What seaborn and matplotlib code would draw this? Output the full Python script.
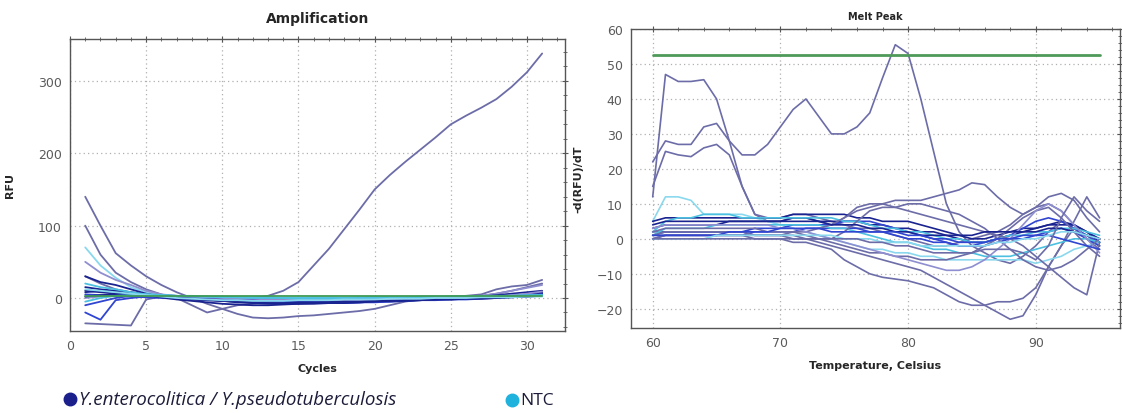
import numpy as np
import pandas as pd
import matplotlib
matplotlib.use("Agg")
import matplotlib.pyplot as plt
from matplotlib.lines import Line2D
from matplotlib.ticker import MultipleLocator
import seaborn as sns

# ---------------- data ----------------
cycles = list(range(1, 32))

amp_big   = [30, 20, 12, 8, 5, 2, 0, -2, -3, -3, -2, 0, 3, 10, 22, 45, 68, 95, 122, 150, 170, 188, 205, 222, 240, 252, 263, 275, 292, 312, 338]
amp_dip28 = [140, 100, 62, 45, 30, 18, 8, 0, -8, -15, -22, -27, -28, -27, -25, -24, -22, -20, -18, -15, -10, -5, -2, 0, 0, 1, 3, 6, 10, 15, 20]
amp_dip20 = [100, 60, 35, 22, 12, 5, 0, -10, -20, -15, -10, -8, -5, -3, -2, -2, -1, 0, 0, 1, 1, 0, 0, 1, 2, 3, 5, 12, 16, 18, 25]
amp_cyan1 = [70, 45, 28, 15, 8, 4, 2, 0, -1, -2, -2, -1, -1, 0, 0, 1, 1, 0, 0, 1, 1, 0, 0, 1, 1, 2, 2, 3, 4, 5, 6]
amp_p50   = [50, 35, 25, 18, 10, 5, 3, 2, 1, 0, -2, -3, -4, -4, -3, -3, -2, -2, -1, -1, 0, 0, 0, 1, 1, 2, 3, 6, 10, 14, 18]
amp_n30   = [30, 22, 18, 12, 6, 2, 0, -2, -3, -4, -5, -6, -6, -5, -5, -4, -4, -3, -3, -2, -2, -1, -1, 0, 0, 1, 2, 4, 6, 8, 10]
amp_zig1  = [-35, -36, -37, -38, -2, 2, 1, 0, -1, -2, -3, -4, -5, -6, -6, -5, -5, -4, -4, -3, -3, -2, -2, -1, -1, 0, 1, 2, 3, 5, 8]
amp_zig2  = [-20, -30, -3, 0, 2, 3, 2, 1, 0, -1, -2, -3, -3, -4, -4, -5, -5, -6, -6, -5, -4, -3, -2, -1, 0, 0, 1, 1, 2, 3, 4]
amp_n1    = [10, 8, 6, 5, 4, 3, 1, 0, -2, -4, -6, -7, -8, -8, -8, -7, -7, -6, -6, -5, -5, -4, -3, -2, -2, -1, 0, 1, 3, 5, 7]
amp_n2    = [-10, -5, 0, 3, 4, 3, 2, 1, 0, -1, -2, -3, -4, -5, -6, -6, -7, -7, -6, -6, -5, -4, -3, -3, -2, -2, -1, 0, 1, 2, 3]
amp_b1    = [15, 12, 10, 8, 5, 3, 1, 0, 0, -1, -1, -2, -2, -3, -3, -3, -4, -4, -4, -3, -3, -2, -2, -1, -1, 0, 0, 1, 2, 4, 6]
amp_b2    = [5, 4, 3, 2, 1, 0, -1, -1, -2, -2, -3, -3, -3, -2, -2, -2, -1, -1, -1, 0, 0, 0, 1, 1, 1, 1, 2, 2, 3, 4, 5]
amp_b3    = [8, 10, 9, 7, 4, 1, -2, -4, -6, -8, -9, -10, -10, -9, -8, -8, -7, -7, -6, -5, -4, -4, -3, -2, -1, 0, 0, 1, 2, 3, 4]
amp_b4    = [0, 2, 4, 5, 5, 4, 3, 2, 1, 0, -1, -1, -2, -2, -2, -3, -3, -3, -3, -2, -2, -2, -1, -1, 0, 0, 1, 2, 4, 6, 9]
amp_b5    = [2, 4, 5, 5, 4, 2, 0, -1, -3, -4, -5, -6, -7, -7, -6, -6, -6, -5, -5, -4, -4, -3, -3, -2, -2, -1, -1, 0, 1, 2, 3]
amp_c2    = [20, 15, 12, 8, 5, 4, 3, 2, 2, 1, 1, 0, 0, 0, -1, -1, -1, 0, 0, 0, 1, 1, 1, 1, 2, 2, 2, 3, 3, 4, 4]
amp_c3    = [-5, 0, 3, 4, 5, 4, 3, 3, 2, 2, 1, 1, 1, 0, 0, 0, 0, 0, 1, 1, 1, 1, 2, 2, 2, 2, 3, 3, 3, 3, 4]
amp_c4    = [12, 10, 8, 6, 4, 2, 0, -1, -2, -3, -3, -4, -4, -4, -3, -3, -3, -2, -2, -2, -1, -1, -1, 0, 0, 0, 1, 1, 1, 2, 2]
amp_green = [3, 3, 3, 3, 3, 3, 3, 3, 3, 3, 3, 3, 3, 3, 3, 3, 3, 3, 3, 3, 3, 3, 3, 3, 3, 3, 3, 3, 3, 3, 3]

temps = list(range(60, 96))

melt_peak  = [22, 28, 27, 27, 32, 33, 28, 24, 24, 27, 32, 37, 40, 35, 30, 30, 32, 36, 46, 55.5, 53, 40, 25, 10, 2, -2, -4, -6, -7, -5, -2, 2, 5, 3, 0, -2]
melt_p45   = [12, 47, 45, 45, 45.5, 40, 28, 15, 7, 5, 5, 6, 6, 5, 4, 6, 9, 10, 10, 11, 11, 11, 12, 13, 14, 16, 15.5, 12, 9, 7, 9, 12, 13, 11, 6, 2]
melt_p27   = [15, 25, 24, 23.5, 26, 27, 24, 15, 7, 6, 6, 7, 7, 6, 5, 4, 3, 3, 2, 1, 0, -1, -2, -2, -1, 0, 1, 2, 4, 7, 9, 10, 8, 4, 0, -3]
melt_low23 = [2, 2, 2, 2, 2, 2, 2, 2, 1, 1, 1, 0, 0, -1, -2, -3, -4, -5, -6, -7, -8, -9, -11, -13, -15, -17, -19, -21, -23, -22, -16, -8, -2, 3, 1, -2]
melt_low19 = [1, 1, 1, 1, 1, 1, 1, 1, 0, 0, 0, -1, -1, -2, -3, -6, -8, -10, -11, -11.5, -12, -13, -14, -16, -18, -19, -19, -18, -18, -17, -14, -8, -2, 5, 12, 6]
melt_cyan  = [5, 12, 12, 11, 7, 7, 7, 7, 6, 5, 4, 3, 2, 1, 0, -1, -2, -3, -3, -4, -4, -5, -5, -6, -6, -6, -6, -6, -6, -6, -7, -6, -5, -3, -2, -1]
melt_n1    = [5, 6, 6, 6, 6, 6, 6, 6, 6, 6, 6, 7, 7, 7, 7, 7, 6, 6, 5, 5, 5, 4, 3, 2, 1, 0, 0, 1, 2, 3, 3, 4, 4, 4, 2, 0]
melt_n2    = [3, 4, 4, 4, 4, 4, 5, 5, 5, 5, 5, 6, 6, 5, 5, 5, 5, 4, 4, 3, 3, 2, 2, 1, 0, -1, -1, 0, 1, 2, 3, 4, 5, 4, 2, -1]
melt_b1    = [1, 2, 2, 2, 2, 2, 2, 2, 3, 3, 3, 4, 4, 4, 4, 5, 5, 5, 4, 3, 2, 1, 0, -1, -2, -2, -1, 0, 1, 3, 5, 6, 5, 3, 1, -1]
melt_b2    = [0, 1, 1, 1, 1, 1, 1, 1, 2, 2, 2, 2, 3, 3, 3, 3, 3, 2, 2, 1, 0, 0, -1, -1, -2, -2, -2, -1, 0, 0, 1, 2, 3, 2, 0, -2]
melt_c1    = [2, 5, 6, 6, 7, 7, 7, 6, 6, 6, 6, 6, 6, 6, 6, 5, 5, 4, 3, 3, 2, 2, 1, 0, 0, -1, -1, 0, 1, 1, 2, 2, 3, 3, 2, 1]
melt_c2    = [1, 3, 3, 3, 3, 4, 4, 4, 4, 4, 4, 4, 4, 4, 3, 3, 2, 1, 0, -1, -1, -2, -3, -3, -4, -4, -5, -5, -5, -4, -3, -2, -1, 0, 0, -1]
melt_v1    = [2, 3, 3, 3, 3, 3, 3, 3, 3, 2, 2, 2, 1, 0, 0, 2, 5, 8, 9, 9, 10, 10, 9, 8, 7, 5, 3, 0, -3, -6, -8, -9, -8, -6, -3, 0]
melt_v2    = [1, 2, 2, 2, 2, 2, 2, 2, 1, 1, 1, 1, 0, 0, -1, -2, -3, -4, -4, -5, -5, -6, -6, -6, -5, -4, -2, 0, 3, 6, 8, 9, 6, 2, -2, -5]
melt_v3    = [0, 1, 1, 1, 1, 1, 1, 1, 1, 1, 1, 2, 2, 3, 4, 6, 8, 9, 10, 9, 8, 7, 6, 5, 4, 3, 2, 1, 0, -2, -5, -8, -11, -14, -16, -1]
melt_v4    = [3, 4, 4, 4, 4, 4, 4, 4, 4, 4, 3, 3, 2, 1, 0, -1, -2, -3, -4, -5, -6, -7, -8, -9, -9, -8, -6, -3, 0, 4, 8, 10, 8, 4, 0, -4]
melt_b3    = [4, 5, 5, 5, 5, 5, 5, 5, 5, 5, 5, 5, 5, 5, 4, 4, 4, 3, 3, 2, 2, 1, 1, 1, 1, 1, 2, 2, 2, 2, 2, 3, 3, 2, 1, 0]
melt_b4    = [1, 1, 1, 1, 1, 1, 2, 2, 2, 2, 3, 3, 3, 3, 2, 2, 2, 2, 2, 2, 1, 1, 0, 0, -1, -1, -1, 0, 0, 1, 1, 1, 0, -1, -2, -3]
melt_c3    = [0, 0, 0, 0, 0, 1, 1, 1, 1, 1, 1, 1, 1, 1, 1, 0, 0, 0, -1, -1, -1, -2, -2, -2, -2, -2, -2, -1, -1, 0, 0, 1, 2, 2, 1, 0]
melt_up    = [0, 0, 0, 0, 0, 0, 0, 0, 0, 0, 0, 0, 0, 0, 0, 0, 0, -1, -1, -2, -2, -3, -4, -4, -4, -4, -3, -3, -3, -4, -6, -2, 6, 12, 8, 5]
threshold_temps = [60, 95]
threshold_value = [52.5, 52.5]

legend_labels = ["Y.enterocolitica / Y.pseudotuberculosis", "NTC"]

# ---------------- styling ----------------
NAVY = "#1a2490"
BLUE = "#3045d0"
PURP = "#6c6ca8"
LAV = "#8e8ed0"
CYAN = "#4cc0e0"
LCYAN = "#8ad8ee"
GREEN = "#3f9a55"

amp_series = {
    "big": (amp_big, PURP), "dip28": (amp_dip28, PURP), "dip20": (amp_dip20, PURP),
    "cyan1": (amp_cyan1, LCYAN), "p50": (amp_p50, LAV), "n30": (amp_n30, NAVY),
    "zig1": (amp_zig1, PURP), "zig2": (amp_zig2, BLUE), "n1": (amp_n1, NAVY),
    "n2": (amp_n2, BLUE), "b1": (amp_b1, NAVY), "b2": (amp_b2, BLUE),
    "b3": (amp_b3, NAVY), "b4": (amp_b4, LAV), "b5": (amp_b5, NAVY),
    "c2": (amp_c2, CYAN), "c3": (amp_c3, CYAN), "c4": (amp_c4, LCYAN), "green": (amp_green, GREEN),
}
melt_series = {
    "peak": (melt_peak, PURP), "p45": (melt_p45, PURP), "p27": (melt_p27, PURP),
    "low23": (melt_low23, PURP), "low19": (melt_low19, PURP), "cyan": (melt_cyan, LCYAN),
    "n1": (melt_n1, NAVY), "n2": (melt_n2, NAVY), "b1": (melt_b1, BLUE), "b2": (melt_b2, BLUE),
    "c1": (melt_c1, CYAN), "c2": (melt_c2, CYAN), "v1": (melt_v1, PURP), "v2": (melt_v2, PURP),
    "v3": (melt_v3, PURP), "v4": (melt_v4, LAV), "b3": (melt_b3, NAVY), "b4": (melt_b4, BLUE),
    "c3": (melt_c3, LCYAN), "up": (melt_up, PURP),
}

amp_df = pd.concat([pd.DataFrame({"Cycle": cycles, "RFU": v, "Well": k}) for k, (v, c) in amp_series.items()])
melt_df = pd.concat([pd.DataFrame({"T": temps, "D": v, "Well": k}) for k, (v, c) in melt_series.items()])
thr_df = pd.DataFrame({"T": threshold_temps, "D": threshold_value})

sns.set_style("white")
plt.rcParams["font.family"] = ["DejaVu Sans"]

fig = plt.figure(figsize=(11.22, 4.14), dpi=100)
W, H = 1122, 414

def add_ax(l, r, t, b):
    return fig.add_axes([l / W, 1 - b / H, (r - l) / W, (b - t) / H])

ax1 = add_ax(70, 565, 40, 332)
ax2 = add_ax(631, 1120, 30, 329)

sns.lineplot(data=amp_df, x="Cycle", y="RFU", hue="Well",
             palette={k: c for k, (v, c) in amp_series.items()},
             legend=False, linewidth=1.3, estimator=None, sort=False, ax=ax1)
sns.lineplot(data=melt_df, x="T", y="D", hue="Well",
             palette={k: c for k, (v, c) in melt_series.items()},
             legend=False, linewidth=1.2, estimator=None, sort=False, ax=ax2)
sns.lineplot(data=thr_df, x="T", y="D", color="#4f9a5a", linewidth=2.0, ax=ax2)

ax1.set_xlim(0, 32.5)
ax1.set_ylim(-45.6, 358)
ax1.xaxis.set_major_locator(MultipleLocator(5))
ax1.xaxis.set_minor_locator(MultipleLocator(1))
ax1.yaxis.set_major_locator(MultipleLocator(100))
ax1.yaxis.set_minor_locator(MultipleLocator(20))

ax2.set_xlim(58.3, 96.6)
ax2.set_ylim(-25.5, 60)
ax2.xaxis.set_major_locator(MultipleLocator(10))
ax2.xaxis.set_minor_locator(MultipleLocator(2))
ax2.yaxis.set_major_locator(MultipleLocator(10))
ax2.yaxis.set_minor_locator(MultipleLocator(2))

for ax in (ax1, ax2):
    ax.grid(True, which="major", linestyle=(0, (1, 2.5)), color="#b0b0b0", linewidth=0.9)
    for s in ax.spines.values():
        s.set_color("#555555")
        s.set_linewidth(1.0)
    ax.tick_params(which="both", direction="inout", top=True, right=True,
                   colors="#555555", labelcolor="#5a5a5a", labelsize=9)
    ax.tick_params(which="major", length=5)
    ax.tick_params(which="minor", length=3)
    ax.set_xlabel("")
    ax.set_ylabel("")

ax1.set_title("Amplification", fontsize=10, fontweight="bold", pad=12)
ax2.set_title("Melt Peak", fontsize=7, fontweight="bold", pad=7)
ax1.set_xlabel("Cycles", fontsize=8, fontweight="bold", labelpad=8)
ax1.set_ylabel("RFU", fontsize=8, fontweight="bold")
ax1.yaxis.set_label_coords((15 - 70) / 495, 0.5)
ax2.set_xlabel("Temperature, Celsius", fontsize=8, fontweight="bold", labelpad=8)
ax2.set_ylabel("-d(RFU)/dT", fontsize=8, fontweight="bold")
ax2.yaxis.set_label_coords((583 - 631) / 489, 0.5)

# legend at the bottom
fig.add_artist(Line2D([70 / W], [1 - 400 / H], marker="o", markersize=9,
                      color="#1a1f8c", transform=fig.transFigure))
fig.text(79 / W, 1 - 400 / H, legend_labels[0], fontsize=13.5, style="italic",
         color="#1c1c3a", va="center", ha="left", family="Open Sans")
fig.add_artist(Line2D([512 / W], [1 - 401 / H], marker="o", markersize=9,
                      color="#1fb2dc", transform=fig.transFigure))
fig.text(520 / W, 1 - 401 / H, legend_labels[1], fontsize=12.5,
         color="#1c1c3a", va="center", ha="left", family="Open Sans")

fig.savefig("out.png", dpi=100)
